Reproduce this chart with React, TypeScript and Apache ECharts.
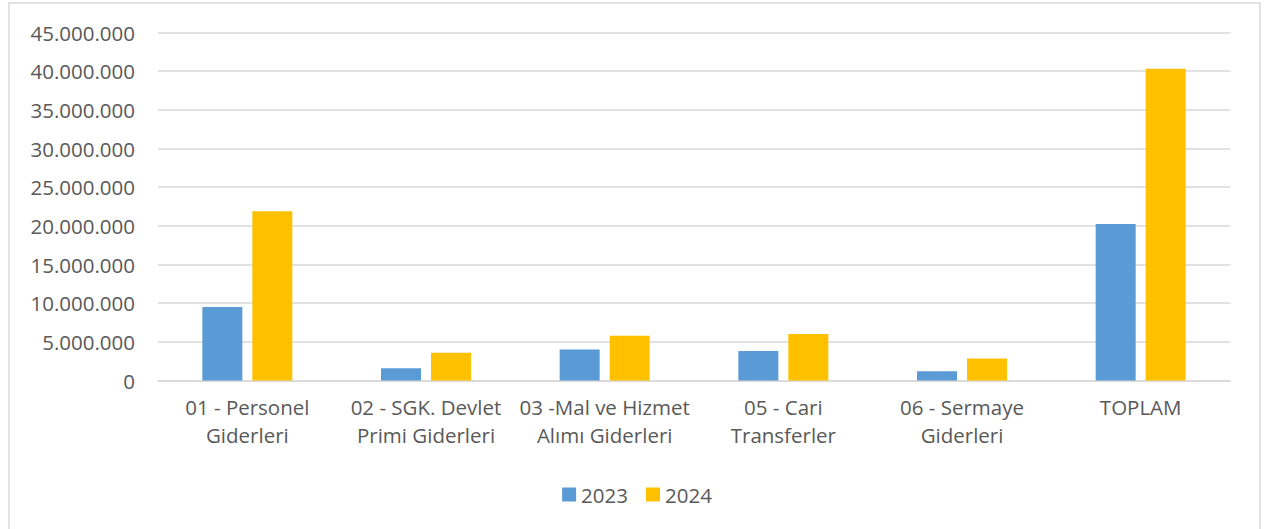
import React, { useEffect, useRef } from "react";
import * as echarts from "echarts";

const categories = [
  "01 - Personel\nGiderleri",
  "02 - SGK. Devlet\nPrimi Giderleri",
  "03 -Mal ve Hizmet\nAlımı Giderleri",
  "05 - Cari\nTransferler",
  "06 - Sermaye\nGiderleri",
  "TOPLAM",
];
const values2023 = [9500000, 1580000, 4000000, 3830000, 1200000, 20250000];
const values2024 = [21900000, 3600000, 5800000, 6000000, 2850000, 40300000];
const seriesNames = ["2023", "2024"];

const fmt = (v: number) => String(Math.round(v)).replace(/\B(?=(\d{3})+(?!\d))/g, ".");

export default function App() {
  const ref = useRef<HTMLDivElement>(null);
  useEffect(() => {
    document.body.style.margin = "0";
    const chart = echarts.init(ref.current!, null, { renderer: "svg" });
    const font = "'Open Sans', 'Noto Sans', sans-serif";
    chart.setOption({
      animation: false,
      backgroundColor: "#ffffff",
      textStyle: { fontFamily: font },
      graphic: [
        {
          type: "rect",
          shape: { x: 9, y: 3, width: 1251, height: 560 },
          style: { fill: "none", stroke: "#D9D9D9", lineWidth: 1.5 },
          silent: true,
        },
      ],
      grid: { left: 158, right: 44, top: 32.5, bottom: 148.5 },
      legend: {
        data: seriesNames,
        top: 479,
        left: "center",
        itemWidth: 14,
        itemHeight: 14,
        itemGap: 18,
        icon: "rect",
        textStyle: { color: "#595959", fontSize: 20.5, fontFamily: font },
      },
      xAxis: {
        type: "category",
        data: categories,
        axisLine: { lineStyle: { color: "#D9D9D9", width: 1.5 } },
        axisTick: { show: false },
        axisLabel: {
          color: "#595959",
          fontSize: 20.5,
          lineHeight: 28,
          margin: 12,
          interval: 0,
          fontFamily: font,
        },
      },
      yAxis: {
        type: "value",
        min: 0,
        max: 45000000,
        interval: 5000000,
        axisLine: { show: false },
        axisTick: { show: false },
        splitLine: { lineStyle: { color: "#D9D9D9", width: 1.5 } },
        axisLabel: {
          color: "#595959",
          fontSize: 20.5,
          margin: 23,
          fontFamily: font,
          formatter: (v: number) => fmt(v),
        },
      },
      series: [
        {
          name: seriesNames[0],
          type: "bar",
          data: values2023,
          barWidth: 40,
          barGap: "25%",
          itemStyle: { color: "#5B9BD5" },
        },
        {
          name: seriesNames[1],
          type: "bar",
          data: values2024,
          barWidth: 40,
          itemStyle: { color: "#FFC000" },
        },
      ],
    });
    return () => chart.dispose();
  }, []);
  return <div ref={ref} style={{ width: 1274, height: 529 }} />;
}
